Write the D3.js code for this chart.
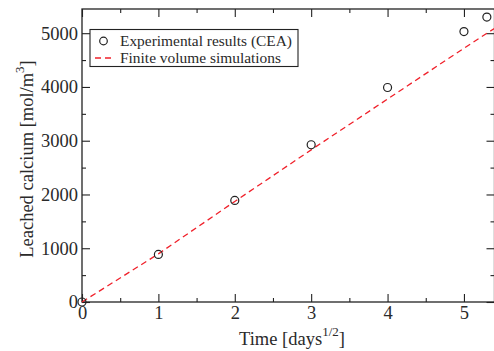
<!DOCTYPE html>
<html>
<head>
<meta charset="utf-8">
<script src="https://cdn.jsdelivr.net/npm/d3@7"></script>
<style>
  html, body { margin: 0; padding: 0; background: #fff; }
  svg { display: block; }
  text { font-family: "Liberation Serif", "DejaVu Serif", serif; fill: #2a2a2a; }
</style>
</head>
<body>
<svg id="chart" width="494" height="351"></svg>
<script>
// ---- data ----
const expTime = [0, 1, 2, 3, 4, 5, 5.3];
const expCalcium = [0, 885, 1890, 2925, 3990, 5030, 5300];
const simTime = [0, 1, 2, 3, 4, 5, 5.4];
const simCalcium = [0, 895, 1870, 2830, 3775, 4720, 5090];
const xTicks = [0, 1, 2, 3, 4, 5];
const xMinorTicks = [0.5, 1.5, 2.5, 3.5, 4.5];
const yTicks = [0, 1000, 2000, 3000, 4000, 5000];
const yMinorTicks = [500, 1500, 2500, 3500, 4500];
const legendLabels = ["Experimental results (CEA)", "Finite volume simulations"];

// ---- layout ----
const svg = d3.select("#chart");
const pLeft = 82, pRight = 494.5, pTop = 9, pBottom = 302;
const x = d3.scaleLinear().domain([0, 5.4]).range([pLeft, pRight]);
const y = d3.scaleLinear().domain([0, 5450]).range([pBottom, pTop]);
const ink = "#222";

// frame
svg.append("rect").attr("x", pLeft).attr("y", pTop)
  .attr("width", pRight - pLeft).attr("height", pBottom - pTop)
  .attr("fill", "none").attr("stroke", ink).attr("stroke-width", 1.3);

function styleAxis(g) {
  g.select(".domain").remove();
  g.selectAll("line").attr("stroke", ink).attr("stroke-width", 1.1);
}
const fontSize = 18.5;
function styleText(g) {
  g.selectAll("text").attr("font-size", fontSize).attr("fill", "#2a2a2a")
    .style("font-family", "Liberation Serif");
}
// bottom
svg.append("g").attr("transform", `translate(0,${pBottom})`)
  .call(d3.axisBottom(x).tickValues(xTicks).tickSize(-8).tickPadding(4).tickFormat(d3.format("d")))
  .call(styleAxis).call(styleText);
svg.append("g").attr("transform", `translate(0,${pBottom})`)
  .call(d3.axisBottom(x).tickValues(xMinorTicks).tickSize(-4).tickFormat(""))
  .call(styleAxis);
// top
svg.append("g").attr("transform", `translate(0,${pTop})`)
  .call(d3.axisTop(x).tickValues(xTicks).tickSize(-8).tickFormat(""))
  .call(styleAxis);
svg.append("g").attr("transform", `translate(0,${pTop})`)
  .call(d3.axisTop(x).tickValues(xMinorTicks).tickSize(-4).tickFormat(""))
  .call(styleAxis);
// left
svg.append("g").attr("transform", `translate(${pLeft},0)`)
  .call(d3.axisLeft(y).tickValues(yTicks).tickSize(-8).tickPadding(4).tickFormat(d3.format("d")))
  .call(styleAxis).call(styleText);
svg.append("g").attr("transform", `translate(${pLeft},0)`)
  .call(d3.axisLeft(y).tickValues(yMinorTicks).tickSize(-4).tickFormat(""))
  .call(styleAxis);
// right
svg.append("g").attr("transform", `translate(${pRight},0)`)
  .call(d3.axisRight(y).tickValues(yTicks).tickSize(-8).tickFormat(""))
  .call(styleAxis);
svg.append("g").attr("transform", `translate(${pRight},0)`)
  .call(d3.axisRight(y).tickValues(yMinorTicks).tickSize(-4).tickFormat(""))
  .call(styleAxis);

// simulation line
const sim = simTime.map((t, i) => [t, simCalcium[i]]);
svg.append("path").datum(sim)
  .attr("d", d3.line().x(d => x(d[0])).y(d => y(d[1])))
  .attr("fill", "none").attr("stroke", "#f0202a").attr("stroke-width", 1.3)
  .attr("stroke-dasharray", "6,4");

// experimental points
svg.append("g").selectAll("circle")
  .data(expTime.map((t, i) => [t, expCalcium[i]]))
  .join("circle")
  .attr("cx", d => x(d[0])).attr("cy", d => y(d[1])).attr("r", 4)
  .attr("fill", "none").attr("stroke", ink).attr("stroke-width", 1.2);

// legend
const lg = svg.append("g");
lg.append("rect").attr("x", 90).attr("y", 29.5).attr("width", 208).attr("height", 37)
  .attr("fill", "#fff").attr("stroke", ink).attr("stroke-width", 1.1);
lg.append("circle").attr("cx", 103.5).attr("cy", 41).attr("r", 3.8)
  .attr("fill", "none").attr("stroke", ink).attr("stroke-width", 1.2);
lg.append("line").attr("x1", 95).attr("x2", 113).attr("y1", 58).attr("y2", 58)
  .attr("stroke", "#f0202a").attr("stroke-width", 1.3).attr("stroke-dasharray", "6,4");
const legendWidths = [172, 161];
lg.selectAll("text.leg").data(legendLabels).join("text")
  .attr("class", "leg")
  .attr("x", 120).attr("y", (d, i) => 45.5 + i * 17)
  .attr("font-size", 15)
  .attr("textLength", (d, i) => legendWidths[i])
  .attr("lengthAdjust", "spacingAndGlyphs")
  .text(d => d);

// axis titles
const xt = svg.append("text").attr("x", 292).attr("y", 345)
  .attr("text-anchor", "middle").attr("font-size", fontSize);
xt.append("tspan").text("Time [days");
xt.append("tspan").attr("dy", -9).attr("font-size", 13).text("1/2");
xt.append("tspan").attr("dy", 9).text("]");

const yt = svg.append("text")
  .attr("transform", "translate(33,159) rotate(-90)")
  .attr("text-anchor", "middle").attr("font-size", fontSize);
yt.append("tspan").text("Leached calcium [mol/m");
yt.append("tspan").attr("dy", -9).attr("font-size", 13).text("3");
yt.append("tspan").attr("dy", 9).text("]");
</script>
</body>
</html>
